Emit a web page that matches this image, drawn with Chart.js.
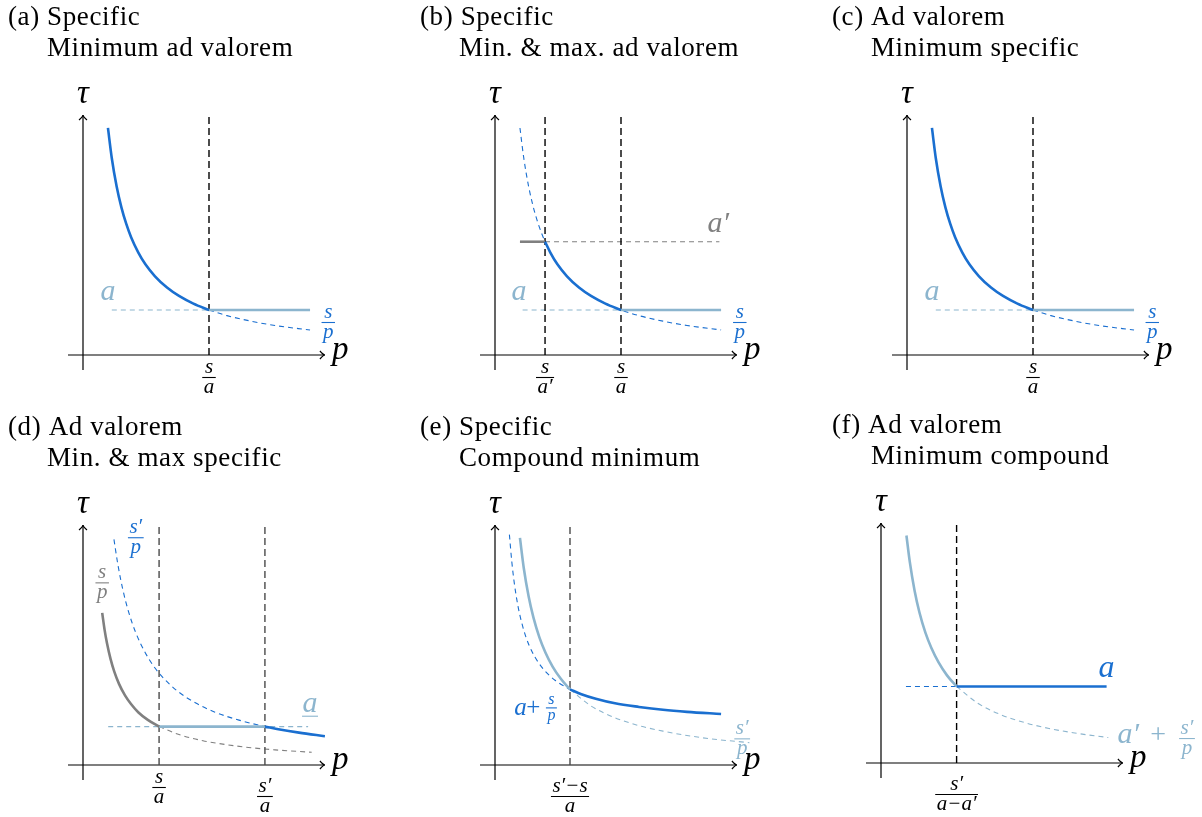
<!DOCTYPE html>
<html lang="en">
<head>
<title>Tariff floors and ceilings</title>
<script src="https://cdn.jsdelivr.net/npm/chart.js@4/dist/chart.umd.min.js"></script>
<style>
  body { margin: 0; background: #fff; }
  canvas { position: absolute; }
</style>
<script>

// ---- values (p on x, tau on y; origin at the axes crossing) ----

// (a) and (c): tau = s/p, kink at s/a
var acCurveP   = [1.04, 1.2, 1.4, 1.6, 1.8, 2.0, 2.3, 2.6, 3.0, 3.5, 4.0, 4.6, 5.25];
var acCurveTau = [9.46, 8.2, 7.03, 6.15, 5.47, 4.92, 4.28, 3.78, 3.28, 2.81, 2.46, 2.14, 1.875];
var acTailP    = [5.25, 6.0, 7.0, 8.0, 9.46];
var acTailTau  = [1.875, 1.64, 1.41, 1.23, 1.04];
var acLevel    = 1.875;
var acKink     = 5.25;

// (b): s/p between s/a' and s/a
var bCurveP    = [1.04, 1.2, 1.4, 1.6, 1.8, 2.085, 2.3, 2.6, 3.0, 3.5, 4.0, 4.6, 5.25, 6.0, 7.0, 8.0, 9.42];
var bCurveTau  = [9.46, 8.2, 7.03, 6.15, 5.47, 4.72, 4.28, 3.78, 3.28, 2.81, 2.46, 2.14, 1.875, 1.64, 1.41, 1.23, 1.045];
var bMidP      = [2.085, 2.3, 2.6, 3.0, 3.5, 4.0, 4.6, 5.25];
var bMidTau    = [4.72, 4.28, 3.78, 3.28, 2.81, 2.46, 2.14, 1.875];
var bLevelHigh = 4.72;
var bLevelLow  = 1.875;
var bKinks     = [2.085, 5.25];

// (d): s/p (grey), s'/p (blue), ad valorem a between s/a and s'/a
var dLowP      = [0.8, 0.9, 1.0, 1.15, 1.3, 1.5, 1.75, 2.0, 2.3, 2.7, 3.17];
var dLowTau    = [6.34, 5.63, 5.07, 4.41, 3.9, 3.38, 2.9, 2.54, 2.2, 1.88, 1.6];
var dLowTailP  = [3.17, 4.0, 5.0, 6.0, 7.0, 8.0, 9.53];
var dLowTailTau= [1.6, 1.27, 1.01, 0.845, 0.72, 0.63, 0.53];
var dHighP     = [1.29, 1.45, 1.65, 1.9, 2.2, 2.6, 3.0, 3.5, 4.0, 4.7, 5.5, 6.5, 7.58];
var dHighTau   = [9.4, 8.37, 7.35, 6.38, 5.51, 4.67, 4.04, 3.47, 3.03, 2.58, 2.2, 1.87, 1.6];
var dHighTailP = [7.58, 8.2, 9.0, 10.08];
var dHighTailTau = [1.6, 1.48, 1.35, 1.2];
var dLevel     = 1.6;
var dKinks     = [3.17, 7.58];

// (e): s'/p (light) against a + s/p (blue)
var eLightP    = [1.04, 1.2, 1.4, 1.6, 1.85, 2.1, 2.4, 2.75, 3.125];
var eLightTau  = [9.46, 8.2, 7.03, 6.15, 5.32, 4.69, 4.1, 3.58, 3.15];
var eLightTailP   = [3.125, 4.0, 5.0, 6.0, 7.0, 8.0, 9.0, 10.6];
var eLightTailTau = [3.15, 2.46, 1.97, 1.64, 1.41, 1.23, 1.09, 0.93];
var eBlueHeadP    = [0.6, 0.7, 0.8, 0.95, 1.1, 1.3, 1.55, 1.8, 2.1, 2.5, 3.125];
var eBlueHeadTau  = [9.6, 8.47, 7.61, 6.66, 5.98, 5.3, 4.71, 4.28, 3.9, 3.53, 3.15];
var eBlueP     = [3.125, 3.6, 4.2, 5.0, 6.0, 7.0, 8.0, 9.42];
var eBlueTau   = [3.15, 2.95, 2.76, 2.57, 2.42, 2.3, 2.215, 2.125];
var eKink      = 3.125;

// (f): a' + s'/p (light) against a (blue)
var fLightP    = [1.06, 1.2, 1.4, 1.6, 1.85, 2.1, 2.4, 2.75, 3.15];
var fLightTau  = [9.48, 8.38, 7.18, 6.28, 5.43, 4.79, 4.19, 3.65, 3.19];
var fLightTailP   = [3.15, 4.0, 5.0, 6.0, 7.0, 8.0, 9.47];
var fLightTailTau = [3.19, 2.51, 2.01, 1.68, 1.44, 1.26, 1.06];
var fLevel     = 3.19;
var fKink      = 3.15;

var VTOP = 10.05;   // top of the dashed guide lines

// ---- styles ----
var BLUE  = '#1a6fd0';
var LIGHT = '#8cb5ce';
var GREY  = '#808080';
var INK   = '#000000';
var DIM   = '#4a4a4a';
var SERIF = '"Liberation Serif", "DejaVu Serif", serif';
var UNIT  = 24;   // pixels per unit
var FRAC  = 21;   // fraction label size

function seg(ps, ts, color, width, dash) {
    var pts = [];
    for (var i = 0; i < ps.length; i++) pts.push({ x: ps[i], y: ts[i] });
    return {
        data: pts,
        borderColor: color,
        borderWidth: width,
        borderDash: dash || [],
        pointRadius: 0,
        fill: false,
        tension: 0,
        cubicInterpolationMode: ps.length > 2 ? 'monotone' : 'default'
    };
}
function solid(ps, ts, color) { return seg(ps, ts, color, 2.6); }
function dashed(ps, ts, color) { return seg(ps, ts, color, 1.1, [5, 4]); }
function level(p0, p1, t, color, isDashed) {
    return isDashed ? dashed([p0, p1], [t, t], color) : solid([p0, p1], [t, t], color);
}
function guide(p, color) { return seg([p, p], [0, VTOP], color, 1.4, [7, 4]); }

// ---- drawing helpers ----
function mathText(ctx, str, x, y, size, color, align) {
    ctx.font = 'italic ' + size + 'px ' + SERIF;
    ctx.fillStyle = color;
    ctx.textAlign = align || 'center';
    ctx.textBaseline = 'alphabetic';
    ctx.fillText(str, x, y);
}
function romanText(ctx, str, x, y, size, color, align) {
    ctx.font = size + 'px ' + SERIF;
    ctx.fillStyle = color;
    ctx.textAlign = align || 'center';
    ctx.textBaseline = 'alphabetic';
    ctx.fillText(str, x, y);
}
function frac(ctx, x, bar, num, den, size, color) {
    ctx.font = 'italic ' + size + 'px ' + SERIF;
    var w = Math.max(ctx.measureText(num).width, ctx.measureText(den).width) + 3;
    mathText(ctx, num, x, bar - size * 0.2, size, color);
    mathText(ctx, den, x, bar + size * 0.76, size, color);
    ctx.save();
    ctx.strokeStyle = color;
    ctx.lineWidth = 1.1;
    ctx.beginPath();
    ctx.moveTo(x - w / 2, bar + 0.5);
    ctx.lineTo(x + w / 2, bar + 0.5);
    ctx.stroke();
    ctx.restore();
}
function arrowHead(ctx, x, y, dx, dy) {
    var bx = -dx * 5, by = -dy * 5, nx = -dy * 4, ny = dx * 4;
    ctx.beginPath();
    ctx.moveTo(x + bx + nx, y + by + ny);
    ctx.quadraticCurveTo(x + bx * 0.3, y + by * 0.3, x, y);
    ctx.quadraticCurveTo(x + bx * 0.3, y + by * 0.3, x + bx - nx, y + by - ny);
    ctx.stroke();
}

function makeSketch(panel) {
    return {
        id: 'sketch_' + panel.id,
        beforeDatasetsDraw: function (chart) {
            var ctx = chart.ctx, sx = chart.scales.x, sy = chart.scales.y;
            var x0 = sx.getPixelForValue(0), y0 = sy.getPixelForValue(0);
            ctx.save();
            ctx.strokeStyle = '#000';
            ctx.lineWidth = 1.2;
            ctx.beginPath();
            ctx.moveTo(sx.getPixelForValue(-0.625), y0);
            ctx.lineTo(sx.getPixelForValue(10.08), y0);
            ctx.moveTo(x0, sy.getPixelForValue(-0.625));
            ctx.lineTo(x0, sy.getPixelForValue(10.0));
            ctx.stroke();
            arrowHead(ctx, sx.getPixelForValue(10.08), y0, 1, 0);
            arrowHead(ctx, x0, sy.getPixelForValue(10.0), 0, -1);
            ctx.restore();
        },
        afterDatasetsDraw: function (chart) {
            var ctx = chart.ctx, sx = chart.scales.x, sy = chart.scales.y;
            var x0 = sx.getPixelForValue(0), y0 = sy.getPixelForValue(0);
            ctx.save();
            // title
            ctx.font = '27px ' + SERIF;
            ctx.letterSpacing = '0.6px';
            ctx.fillStyle = INK;
            ctx.textAlign = 'left';
            ctx.textBaseline = 'alphabetic';
            ctx.fillText(panel.title[0], 8, 25);
            ctx.fillText(panel.title[1], 47, 56);
            ctx.letterSpacing = '0px';
            // axis names
            mathText(ctx, 'τ', x0, sy.getPixelForValue(10.5), 33, INK);
            mathText(ctx, 'p', sx.getPixelForValue(10.38), sy.getPixelForValue(-0.15), 33, INK, 'left');
            // ticks under the p axis
            panel.ticks.forEach(function (t) {
                var off = t.num.indexOf('′') >= 0 ? 31 : 22;
                frac(ctx, sx.getPixelForValue(t.p), y0 + off, t.num, t.den, FRAC, INK);
            });
            // curve labels
            panel.labels.forEach(function (l) {
                var x = sx.getPixelForValue(l.p), y = sy.getPixelForValue(l.t);
                if (l.kind === 'frac') {
                    frac(ctx, x, y, l.num, l.den, l.size || FRAC, l.color);
                } else if (l.kind === 'math') {
                    mathText(ctx, l.str, x, y, l.size || 30, l.color, l.align);
                    if (l.underline) {
                        ctx.strokeStyle = l.color;
                        ctx.lineWidth = 1.1;
                        ctx.beginPath();
                        ctx.moveTo(x - 8, y + 4.5);
                        ctx.lineTo(x + 8, y + 4.5);
                        ctx.stroke();
                    }
                } else {
                    romanText(ctx, l.str, x, y, l.size || 28, l.color, l.align);
                }
            });
            ctx.restore();
        }
    };
}

// ---- the six panels ----
var panels = [
    {
        id: 'a', left: 0, top: 0, ox: 83,
        title: ['(a) Specific', 'Minimum ad valorem'],
        datasets: [
            solid(acCurveP, acCurveTau, BLUE),
            level(acKink, 9.46, acLevel, LIGHT),
            guide(acKink, INK),
            dashed(acTailP, acTailTau, BLUE),
            level(1.2, acKink, acLevel, LIGHT, true)
        ],
        ticks: [{ p: acKink, num: 's', den: 'a' }],
        labels: [
            { kind: 'math', str: 'a', p: 1.04, t: 2.29, color: LIGHT },
            { kind: 'frac', num: 's', den: 'p', p: 10.22, t: 1.375, color: BLUE }
        ]
    },
    {
        id: 'b', left: 412, top: 0, ox: 83,
        title: ['(b) Specific', 'Min. & max. ad valorem'],
        datasets: [
            solid(bMidP, bMidTau, BLUE),
            level(1.04, bKinks[0], bLevelHigh, GREY),
            level(bKinks[1], 9.42, bLevelLow, LIGHT),
            guide(bKinks[0], INK),
            guide(bKinks[1], INK),
            dashed(bCurveP, bCurveTau, BLUE),
            level(bKinks[0], 9.35, bLevelHigh, GREY, true),
            level(1.15, bKinks[1], bLevelLow, LIGHT, true)
        ],
        ticks: [{ p: bKinks[0], num: 's', den: 'a′' }, { p: bKinks[1], num: 's', den: 'a' }],
        labels: [
            { kind: 'math', str: 'a′', p: 9.3, t: 5.125, color: GREY },
            { kind: 'math', str: 'a', p: 1.0, t: 2.29, color: LIGHT },
            { kind: 'frac', num: 's', den: 'p', p: 10.2, t: 1.375, color: BLUE }
        ]
    },
    {
        id: 'c', left: 824, top: 0, ox: 83,
        title: ['(c) Ad valorem', 'Minimum specific'],
        datasets: [
            solid(acCurveP, acCurveTau, BLUE),
            level(acKink, 9.46, acLevel, LIGHT),
            guide(acKink, INK),
            dashed(acTailP, acTailTau, BLUE),
            level(1.2, acKink, acLevel, LIGHT, true)
        ],
        ticks: [{ p: acKink, num: 's', den: 'a' }],
        labels: [
            { kind: 'math', str: 'a', p: 1.04, t: 2.29, color: LIGHT },
            { kind: 'frac', num: 's', den: 'p', p: 10.22, t: 1.375, color: BLUE }
        ]
    },
    {
        id: 'd', left: 0, top: 410, ox: 83,
        title: ['(d) Ad valorem', 'Min. & max specific'],
        datasets: [
            solid(dLowP, dLowTau, GREY),
            level(dKinks[0], dKinks[1], dLevel, LIGHT),
            solid(dHighTailP, dHighTailTau, BLUE),
            guide(dKinks[0], DIM),
            guide(dKinks[1], DIM),
            dashed(dHighP, dHighTau, BLUE),
            dashed(dLowTailP, dLowTailTau, GREY),
            level(1.05, 9.38, dLevel, LIGHT, true)
        ],
        ticks: [{ p: dKinks[0], num: 's', den: 'a' }, { p: dKinks[1], num: 's′', den: 'a' }],
        labels: [
            { kind: 'frac', num: 's′', den: 'p', p: 2.2, t: 9.49, color: BLUE },
            { kind: 'frac', num: 's', den: 'p', p: 0.8, t: 7.61, color: GREY },
            { kind: 'math', str: 'a', p: 9.46, t: 2.22, color: LIGHT, underline: true }
        ]
    },
    {
        id: 'e', left: 412, top: 410, ox: 83,
        title: ['(e) Specific', 'Compound minimum'],
        datasets: [
            solid(eBlueP, eBlueTau, BLUE),
            solid(eLightP, eLightTau, LIGHT),
            guide(eKink, DIM),
            dashed(eBlueHeadP, eBlueHeadTau, BLUE),
            dashed(eLightTailP, eLightTailTau, LIGHT)
        ],
        ticks: [{ p: eKink, num: 's′−s', den: 'a' }],
        labels: [
            { kind: 'math', str: 'a', p: 0.8, t: 2.08, size: 25, color: BLUE, align: 'left' },
            { kind: 'roman', str: '+', p: 1.3, t: 2.08, size: 25, color: BLUE, align: 'left' },
            { kind: 'frac', num: 's', den: 'p', p: 2.35, t: 2.4, size: 16, color: BLUE },
            { kind: 'frac', num: 's′', den: 'p', p: 10.3, t: 1.11, color: LIGHT }
        ]
    },
    {
        id: 'f', left: 824, top: 408, ox: 57,
        title: ['(f) Ad valorem', 'Minimum compound'],
        datasets: [
            level(fKink, 9.4, fLevel, BLUE),
            solid(fLightP, fLightTau, LIGHT),
            guide(fKink, INK),
            level(1.04, fKink, fLevel, BLUE, true),
            dashed(fLightTailP, fLightTailTau, LIGHT)
        ],
        ticks: [{ p: fKink, num: 's′', den: 'a−a′' }],
        labels: [
            { kind: 'math', str: 'a', p: 9.4, t: 3.6, size: 32, color: BLUE },
            { kind: 'math', str: 'a′', p: 9.85, t: 0.85, color: LIGHT, align: 'left' },
            { kind: 'roman', str: '+', p: 11.55, t: 0.85, color: LIGHT },
            { kind: 'frac', num: 's′', den: 'p', p: 12.75, t: 1.04, color: LIGHT }
        ]
    }
];

function go() {
    var W = 378, H = 407, OY = 355;
    panels.forEach(function (panel) {
        var cv = document.createElement('canvas');
        cv.width = W;
        cv.height = H;
        cv.style.left = panel.left + 'px';
        cv.style.top = panel.top + 'px';
        cv.style.width = W + 'px';
        cv.style.height = H + 'px';
        document.body.appendChild(cv);

        new Chart(cv, {
            type: 'line',
            data: { datasets: panel.datasets },
            options: {
                responsive: false,
                animation: false,
                layout: { padding: 0 },
                parsing: false,
                scales: {
                    x: { type: 'linear', display: false, min: -panel.ox / UNIT, max: (W - panel.ox) / UNIT },
                    y: { type: 'linear', display: false, min: -(H - OY) / UNIT, max: OY / UNIT }
                },
                plugins: { legend: { display: false }, tooltip: { enabled: false } },
                elements: { line: { capBezierPoints: false } }
            },
            plugins: [makeSketch(panel)]
        });
    });
}

</script>
</head>
<body onload="go();">
</body>
</html>
